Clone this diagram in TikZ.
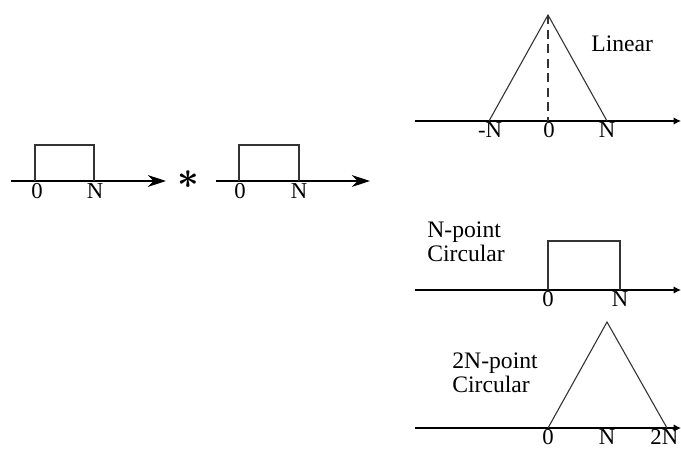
\documentclass[tikz,border=0pt]{standalone}
\usepackage{amsmath}
\usepackage{fontspec}
\setmainfont{Liberation Serif}
\usetikzlibrary{arrows.meta}
\tikzset{
  axis/.style={line width=0.6pt, -{Stealth[length=10pt,width=6.5pt]}},
  raxis/.style={line width=0.6pt, -{Latex[length=4pt,width=4pt]}},
  sig/.style={line width=0.6pt, draw=black!80},
  tick/.style={below, inner sep=0.8pt, font=\fontsize{12.5}{13}\selectfont},
  caption/.style={align=left, inner sep=0pt, font=\fontsize{13}{13}\selectfont}
}
\begin{document}
\begin{tikzpicture}[x=0.55pt, y=-0.55pt]
\useasboundingbox (0,0) rectangle (681,448);

\coordinate (a1s) at (11,181);
\coordinate (a1e) at (166,181);
\draw[axis] (a1s) -- (a1e);
\draw[sig] (35,181) -- (35,145) -- (94,145) -- (94,181);
\node[tick] (a1z) at (37,182) {0};
\node[tick] (a1n) at (95,182) {N};

\node[font=\fontsize{22}{22}\selectfont] (conv) at (188,180) {$\boldsymbol{\ast}$};

\coordinate (a2s) at (216,181);
\coordinate (a2e) at (370,181);
\draw[axis] (a2s) -- (a2e);
\draw[sig] (239,181) -- (239,145) -- (299,145) -- (299,181);
\node[tick] (a2z) at (240,182) {0};
\node[tick] (a2n) at (299,182) {N};

\coordinate (l0) at (415,121);
\coordinate (l1) at (681,121);
\draw[raxis] (l0) -- (l1);
\coordinate (lapex) at (548,15);
\draw[sig] (489,121) -- (lapex) -- (607,121);
\draw[sig, dashed, dash pattern=on 5pt off 3pt] (lapex) -- (548,121);
\node[tick] (lmn) at (490,121) {-N};
\node[tick] (lz) at (549,121) {0};
\node[tick] (ln) at (607,121) {N};
\node[caption, anchor=west] (lin) at (591,44) {Linear};

\coordinate (c0) at (415,290);
\coordinate (c1) at (681,290);
\draw[raxis] (c0) -- (c1);
\draw[sig] (548,290) -- (548,241) -- (620,241) -- (620,290);
\node[tick] (cz) at (548,290) {0};
\node[tick] (cn) at (620,290) {N};
\node[caption, anchor=west] (ncirc) at (427,242) {N-point\\Circular};

\coordinate (d0) at (415,428);
\coordinate (d1) at (681,428);
\draw[raxis] (d0) -- (d1);
\draw[sig] (548,428) -- (607,322) -- (667,428);
\node[tick] (dz) at (548,428) {0};
\node[tick] (dn) at (607,428) {N};
\node[tick, anchor=north east] (d2n) at (680,428) {2N};
\node[caption, anchor=west] (tcirc) at (452,373) {2N-point\\Circular};
\end{tikzpicture}
\end{document}
